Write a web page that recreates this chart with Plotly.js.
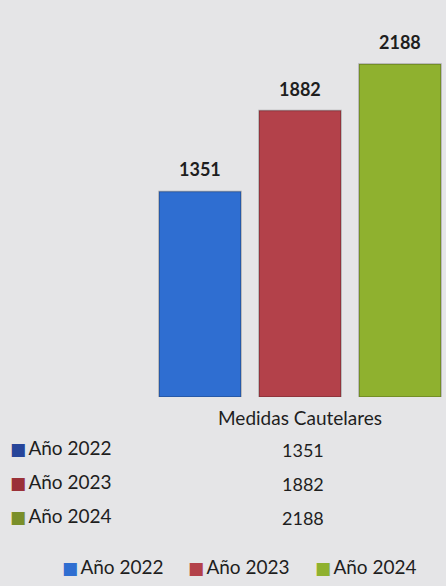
<!DOCTYPE html>
<html>
<head>
<meta charset="utf-8">
<script src="https://cdn.plot.ly/plotly-3.0.1.min.js"></script>
<style>
  html, body { margin: 0; padding: 0; background: #e5e5e7; }
  #chart { width: 446px; height: 586px; }
</style>
</head>
<body>
<div id="chart"></div>
<script>
  // datos
  var categoria = ['Medidas Cautelares'];
  var series = ['Año 2022', 'Año 2023', 'Año 2024'];
  var valores = [1351, 1882, 2188];
  var coloresBarra = ['#2f6ed1', '#b3414a', '#8fb12f'];
  var coloresCuadro = ['#27459a', '#9a3138', '#7a8f2a'];

  var fuente = 'Lato, "Open Sans", sans-serif';

  // area de trazado en pixeles
  var L = 150, T = 30, W = 296, H = 367;
  function px(x) { return (x - L) / W; }
  function py(y) { return (T + H - y) / H; }

  function cuadro(color) {
    return '<span style="color:' + color + ';font-family:\'DejaVu Sans\';font-size:17px">■</span>\u2009';
  }

  var data = series.map(function (s, i) {
    return {
      type: 'bar',
      name: s,
      x: categoria,
      y: [valores[i]],
      marker: {color: coloresBarra[i], line: {color: 'rgba(0,0,0,0.25)', width: 1.5}},
      hoverinfo: 'name+y',
      showlegend: false
    };
  });

  var annotations = [];

  // etiquetas sobre las barras
  series.forEach(function (s, i) {
    annotations.push({
      xref: 'x', yref: 'y', x: categoria[0], y: valores[i],
      xshift: (i - 1) * 100, yshift: 9, yanchor: 'bottom',
      text: '<b>' + valores[i] + '</b>', showarrow: false,
      font: {family: fuente, size: 18, color: '#1e1e1e'}
    });
  });

  // tabla de datos
  var filas = [447, 481, 515];
  series.forEach(function (s, i) {
    annotations.push({
      xref: 'paper', yref: 'paper', x: px(8), y: py(filas[i]),
      xanchor: 'left', yanchor: 'middle', showarrow: false,
      text: cuadro(coloresCuadro[i]) + s,
      font: {family: fuente, size: 19, color: '#1e1e1e'}
    });
    annotations.push({
      xref: 'paper', yref: 'paper', x: px(303), y: py(filas[i] + 3),
      xanchor: 'center', yanchor: 'middle', showarrow: false,
      text: String(valores[i]),
      font: {family: fuente, size: 18, color: '#1e1e1e'}
    });
  });

  // leyenda inferior
  var leyendaX = [60, 186, 313];
  series.forEach(function (s, i) {
    annotations.push({
      xref: 'paper', yref: 'paper', x: px(leyendaX[i]), y: py(566),
      xanchor: 'left', yanchor: 'middle', showarrow: false,
      text: cuadro(coloresBarra[i]) + s,
      font: {family: fuente, size: 19, color: '#1e1e1e'}
    });
  });

  var layout = {
    width: 446,
    height: 586,
    margin: {l: L, r: 446 - L - W, t: T, b: 586 - T - H},
    paper_bgcolor: '#e5e5e7',
    plot_bgcolor: '#e5e5e7',
    barmode: 'group',
    bargap: 0,
    bargroupgap: 0.18,
    font: {family: fuente, color: '#1e1e1e'},
    xaxis: {
      range: [-0.5, -0.5 + W / 300],
      showline: false, showgrid: false, zeroline: false, ticks: '',
      ticklabelstandoff: 8,
      tickfont: {family: fuente, size: 19, color: '#1e1e1e'}
    },
    yaxis: {
      range: [0, H / (333 / 2188)],
      visible: false
    },
    annotations: annotations
  };

  Plotly.newPlot('chart', data, layout, {displayModeBar: false, staticPlot: true});
</script>
</body>
</html>
